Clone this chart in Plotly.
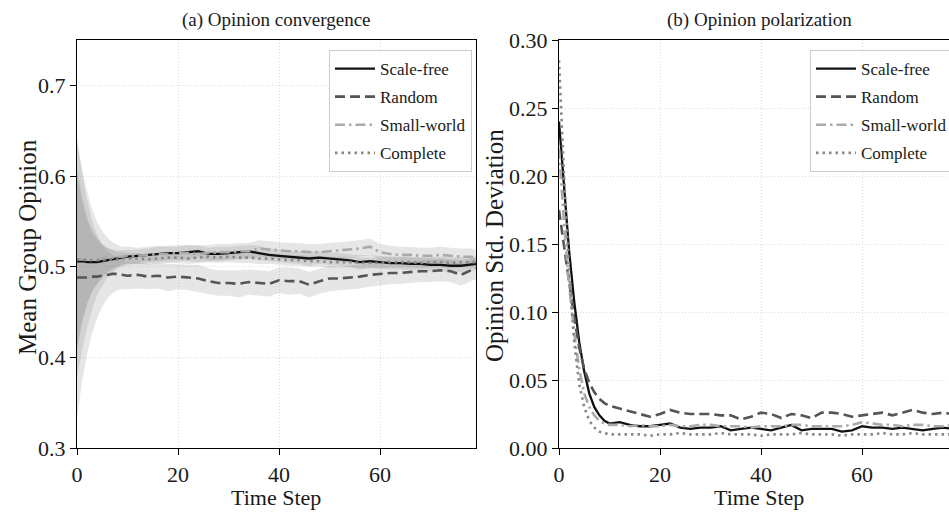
import plotly.graph_objects as go

W, H = 949, 526

# ---------------- data ----------------
T = [0, 1, 2, 3, 4, 5, 6, 7, 8, 9, 10, 12, 14, 16, 18, 20, 22, 24, 26, 28, 30,
     32, 34, 36, 38, 40, 42, 44, 46, 48, 50, 52, 54, 56, 58, 60, 62, 64, 66, 68,
     70, 72, 74, 76, 78, 79]

series_names = ["Scale-free", "Random", "Small-world", "Complete"]

# (a) mean group opinion
sf_mean = [.506, .506, .505, .505, .505, .506, .507, .508, .509, .510, .511,
           .512, .513, .514, .515, .515, .516, .517, .514, .514, .515,
           .516, .517, .515, .513, .512, .511, .510, .509, .510, .509,
           .508, .507, .505, .506, .505, .504, .504, .503, .503, .502,
           .502, .501, .501, .502, .503]
ra_mean = [.488, .488, .488, .489, .489, .490, .491, .492, .492, .491, .490,
           .491, .489, .490, .488, .489, .488, .487, .484, .482, .482,
           .481, .483, .482, .481, .485, .484, .484, .480, .484, .487,
           .487, .488, .489, .491, .492, .493, .493, .494, .495, .495,
           .496, .495, .491, .496, .498]
sw_mean = [.508, .508, .508, .508, .509, .509, .510, .510, .511, .511, .512,
           .512, .513, .514, .514, .515, .515, .514, .515, .516, .516,
           .517, .517, .520, .519, .518, .517, .517, .516, .516, .517,
           .518, .519, .520, .522, .516, .514, .513, .513, .512, .512,
           .513, .512, .511, .511, .510]
co_mean = [.508, .508, .507, .507, .507, .507, .508, .508, .508, .509, .509,
           .509, .508, .509, .510, .510, .509, .510, .511, .510, .511,
           .510, .510, .509, .509, .508, .507, .507, .506, .506, .505,
           .505, .505, .504, .504, .504, .505, .505, .505, .504, .505,
           .505, .504, .505, .505, .505]

# (a) half-width of shaded bands
sf_band = [.095, .065, .045, .032, .024, .018, .014, .011, .009, .008, .007,
           .007, .007, .008, .007, .007, .008, .007, .007, .008, .007,
           .007, .007, .008, .007, .007, .007, .007, .008, .007, .007,
           .007, .007, .008, .007, .007, .007, .007, .007, .007, .007,
           .007, .007, .007, .007, .007]
ra_band = [.155, .115, .085, .062, .046, .034, .026, .021, .018, .016, .015,
           .015, .014, .014, .015, .014, .014, .015, .014, .014, .014,
           .015, .014, .014, .014, .014, .015, .014, .014, .014, .014,
           .013, .013, .013, .013, .013, .012, .012, .012, .012, .012,
           .012, .012, .012, .012, .012]
sw_band = [.130, .100, .075, .055, .040, .030, .022, .017, .013, .011, .010,
           .009, .009, .009, .009, .009, .009, .009, .009, .009, .009,
           .009, .009, .009, .009, .009, .009, .009, .009, .009, .009,
           .009, .009, .009, .009, .009, .009, .009, .009, .009, .009,
           .009, .009, .009, .009, .009]
co_band = [.100, .070, .048, .034, .025, .018, .013, .010, .008, .007, .006,
           .006, .006, .006, .006, .006, .006, .006, .006, .006, .006,
           .006, .006, .006, .006, .006, .006, .006, .006, .006, .006,
           .006, .006, .006, .006, .006, .006, .006, .006, .006, .006,
           .006, .006, .006, .006, .006]

# (b) opinion std. deviation
sf_std = [.240, .190, .145, .108, .078, .056, .040, .030, .024, .020, .018,
          .019, .017, .016, .016, .017, .018, .015, .014, .015, .015,
          .016, .013, .014, .015, .014, .013, .015, .017, .013, .014,
          .014, .014, .012, .013, .016, .015, .015, .014, .015, .014,
          .013, .014, .015, .014, .015]
ra_std = [.175, .150, .122, .096, .074, .058, .048, .041, .036, .033, .031,
          .029, .027, .025, .023, .025, .028, .026, .025, .025, .025,
          .024, .024, .021, .023, .026, .025, .022, .025, .024, .022,
          .026, .026, .025, .023, .024, .025, .026, .024, .026, .028,
          .026, .025, .026, .025, .026]
sw_std = [.220, .165, .120, .085, .058, .040, .030, .024, .020, .018, .017,
          .017, .016, .017, .016, .016, .017, .016, .016, .017, .017,
          .016, .016, .016, .015, .016, .016, .016, .017, .017, .016,
          .016, .016, .016, .017, .019, .018, .017, .017, .016, .017,
          .017, .016, .016, .017, .017]
co_std = [.285, .200, .130, .078, .047, .030, .020, .015, .012, .011, .010,
          .010, .010, .010, .009, .010, .010, .011, .010, .010, .010,
          .011, .010, .010, .010, .009, .010, .010, .010, .011, .010,
          .010, .010, .009, .010, .010, .010, .011, .010, .010, .011,
          .010, .010, .010, .010, .010]

x_ticks = [0, 20, 40, 60]
ya_ticks = [0.3, 0.4, 0.5, 0.6, 0.7]
yb_ticks = [0.00, 0.05, 0.10, 0.15, 0.20, 0.25, 0.30]

# ---------------- styles ----------------
FONT = "Liberation Serif"
styles = {
    "Scale-free": dict(color="#111111", width=2.3, dash="solid"),
    "Random": dict(color="#555555", width=2.6, dash="10px,5px"),
    "Small-world": dict(color="#aaaaaa", width=2.6, dash="10px,4px,2.5px,4px"),
    "Complete": dict(color="#888888", width=2.6, dash="2.5px,4px"),
}

def px(x):
    return x / W

def py(y):
    return 1 - y / H

fig = go.Figure()

means = [sf_mean, ra_mean, sw_mean, co_mean]
bands = [sf_band, ra_band, sw_band, co_band]
stds = [sf_std, ra_std, sw_std, co_std]

# shaded bands (a)
for m, b in zip(means, bands):
    upper = [mi + bi for mi, bi in zip(m, b)]
    lower = [mi - bi for mi, bi in zip(m, b)]
    fig.add_trace(go.Scatter(x=T, y=upper, mode="lines", line=dict(width=0),
                             showlegend=False, hoverinfo="skip",
                             xaxis="x", yaxis="y"))
    fig.add_trace(go.Scatter(x=T, y=lower, mode="lines", line=dict(width=0),
                             fill="tonexty", fillcolor="rgba(128,128,128,0.2)",
                             showlegend=False, hoverinfo="skip",
                             xaxis="x", yaxis="y"))

# lines (a)
for name, m in zip(series_names, means):
    fig.add_trace(go.Scatter(x=T, y=m, mode="lines", name=name,
                             line=styles[name], legend="legend",
                             legendgroup="a" + name,
                             xaxis="x", yaxis="y"))

# lines (b)
for name, s in zip(series_names, stds):
    fig.add_trace(go.Scatter(x=T, y=s, mode="lines", name=name,
                             line=styles[name], legend="legend2",
                             legendgroup="b" + name,
                             xaxis="x2", yaxis="y2"))

axis_common = dict(
    showline=True, linecolor="black", linewidth=1.4,
    ticks="outside", ticklen=6, tickwidth=1.4, tickcolor="black",
    showgrid=True, gridcolor="#dcdcdc", griddash="1px,2px", gridwidth=1,
    zeroline=False, automargin=False,
    tickfont=dict(family=FONT, size=22, color="#1a1a1a"),
)

y_top, y_bot = 40, 448
legend_common = dict(
    bgcolor="rgba(255,255,255,0.85)", bordercolor="#cccccc", borderwidth=1,
    font=dict(family=FONT, size=17, color="#1a1a1a"),
    xanchor="left", yanchor="top", tracegroupgap=3,
    itemwidth=40,
)

fig.update_layout(
    width=W, height=H,
    margin=dict(l=0, r=0, t=0, b=0, autoexpand=False),
    paper_bgcolor="white", plot_bgcolor="white",
    showlegend=True,
    xaxis=dict(domain=[px(77), px(476)], range=[0, 79], tickvals=x_ticks,
               mirror=True, anchor="y", **axis_common),
    yaxis=dict(domain=[py(y_bot), py(y_top)], range=[0.3, 0.75],
               tickvals=ya_ticks, tickformat=".1f", mirror=True, anchor="x",
               **axis_common),
    xaxis2=dict(domain=[px(559), 1.0], range=[0, 77.2], tickvals=x_ticks,
                mirror=True, anchor="y2", **axis_common),
    yaxis2=dict(domain=[py(y_bot), py(y_top)], range=[0, 0.30],
                tickvals=yb_ticks, tickformat=".2f", mirror=False, anchor="x2",
                **axis_common),
    legend=dict(x=px(329), y=py(50), **legend_common),
    legend2=dict(x=px(810), y=py(50), **legend_common),
)

ann_font_t = dict(family=FONT, size=19, color="#1a1a1a")
ann_font_x = dict(family=FONT, size=22, color="#1a1a1a")
ann_font_y = dict(family=FONT, size=25, color="#1a1a1a")
annotations = [
    dict(text="(a) Opinion convergence", x=px(276), y=py(20), font=ann_font_t),
    dict(text="(b) Opinion polarization", x=px(759), y=py(20), font=ann_font_t),
    dict(text="Time Step", x=px(276), y=py(497), font=ann_font_x),
    dict(text="Time Step", x=px(759), y=py(497), font=ann_font_x),
    dict(text="Mean Group Opinion", x=px(28), y=py(247), font=ann_font_y,
         textangle=-90),
    dict(text="Opinion Std. Deviation", x=px(494), y=py(246), font=ann_font_y,
         textangle=-90),
]
for a in annotations:
    fig.add_annotation(xref="paper", yref="paper", showarrow=False,
                       xanchor="center", yanchor="middle", **a)

fig.write_html(
    "out.html",
    config={"displayModeBar": False},
    post_script="document.body.style.margin='0';document.body.style.overflow='hidden';",
)
